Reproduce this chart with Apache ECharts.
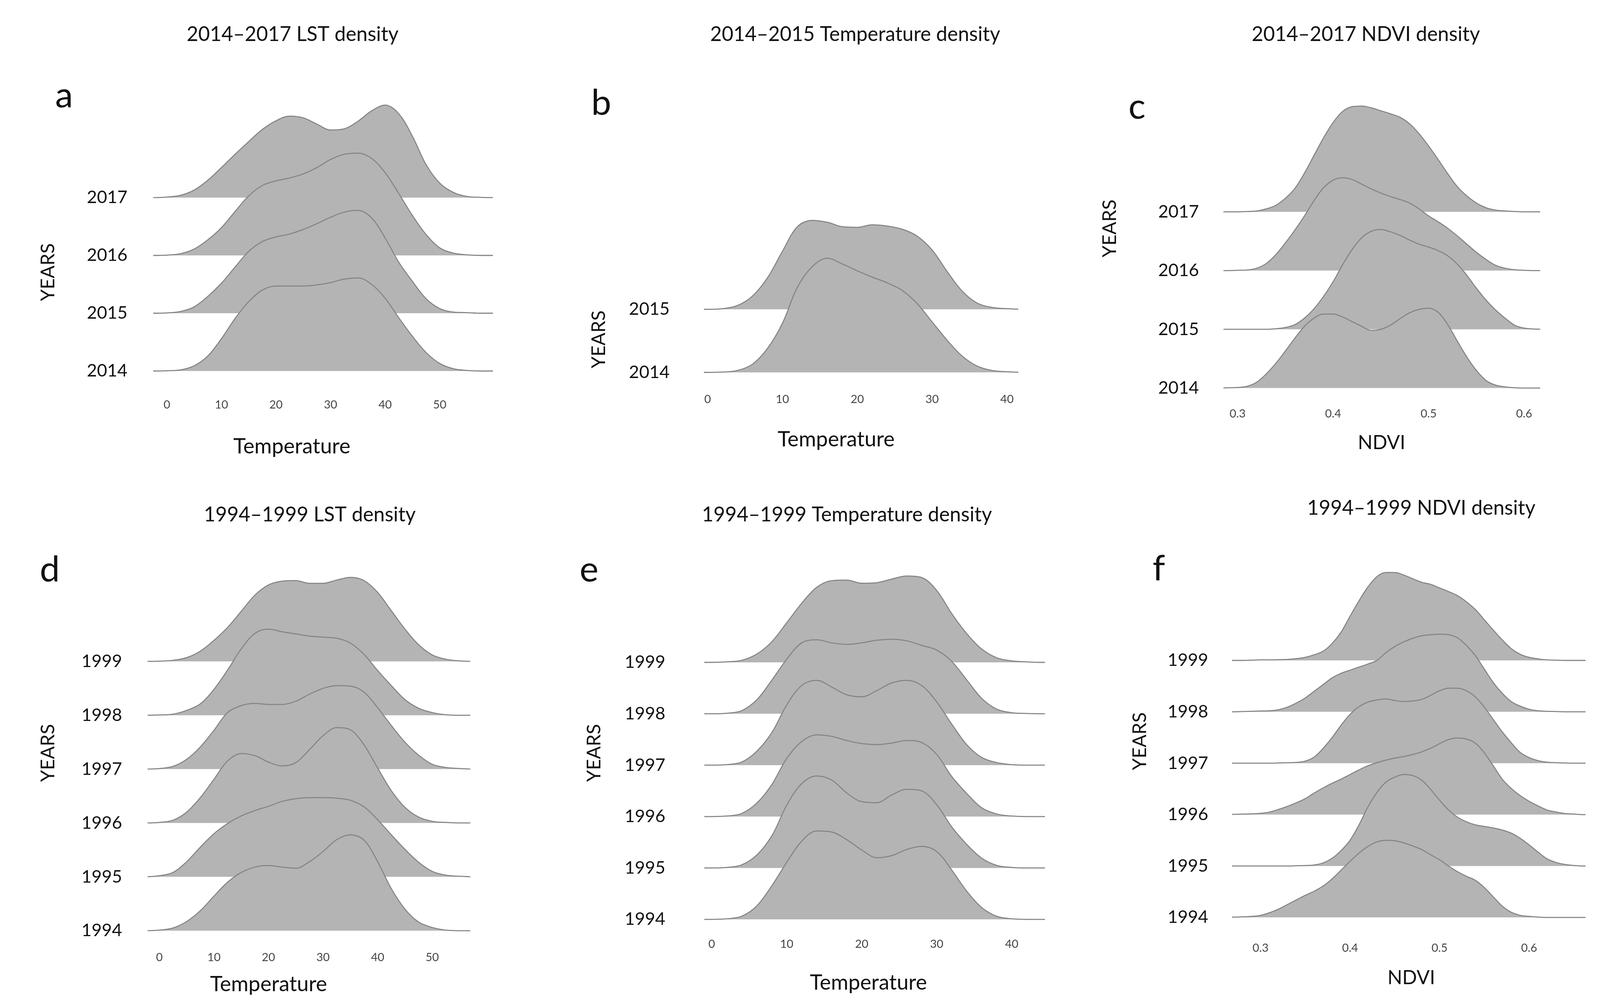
<!DOCTYPE html>
<html>
<head>
<meta charset="utf-8">
<script src="https://cdn.jsdelivr.net/npm/echarts@6/dist/echarts.min.js"></script>
<style>
html,body{margin:0;padding:0;background:#ffffff;overflow:hidden;}
#chart{position:absolute;left:0;top:0;}
</style>
</head>
<body>
<div id="chart"></div>
<script>
// ---------------- DATA (density heights in units of ridge spacing) ----------------
// Panel a: 2014–2017 LST
const lstX14 = [-2.5,0,2.5,5,7.5,10,12.5,15,17.5,20,22.5,25,27.5,30,32.5,35,37.5,40,42.5,45,47.5,50,52.5,55,57.5,60];
const lst2017 = [0,0.01,0.04,0.13,0.30,0.52,0.75,0.97,1.18,1.33,1.41,1.38,1.27,1.17,1.19,1.32,1.50,1.60,1.45,1.06,0.57,0.25,0.09,0.02,0.005,0];
const lst2016 = [0,0.005,0.03,0.11,0.27,0.48,0.76,1.03,1.21,1.29,1.34,1.41,1.52,1.66,1.75,1.77,1.68,1.43,1.07,0.69,0.36,0.13,0.04,0.01,0,0];
const lst2015 = [0,0.005,0.03,0.11,0.29,0.52,0.80,1.07,1.24,1.32,1.37,1.45,1.55,1.66,1.75,1.78,1.65,1.30,0.88,0.55,0.25,0.08,0.02,0.01,0,0];
const lst2014 = [0,0.005,0.02,0.09,0.26,0.56,0.91,1.20,1.40,1.47,1.47,1.47,1.49,1.53,1.59,1.61,1.50,1.26,0.92,0.60,0.32,0.13,0.04,0.01,0,0];

// Panel b: 2014–2015 Temperature
const tempX14 = [-2,0,2,4,6,8,10,12,14,16,18,20,22,24,26,28,30,32,34,36,38,40,42];
const temp2015 = [0,0,0.01,0.06,0.21,0.50,0.92,1.31,1.41,1.38,1.31,1.30,1.34,1.32,1.27,1.16,0.94,0.60,0.29,0.10,0.03,0.01,0];
const temp2014 = [0,0,0.005,0.03,0.13,0.38,0.78,1.35,1.68,1.81,1.72,1.61,1.51,1.42,1.30,1.09,0.80,0.51,0.26,0.10,0.03,0.01,0];

// Panel c: 2014–2017 NDVI
const ndviX14 = [0.28,0.29,0.30,0.31,0.32,0.33,0.34,0.35,0.36,0.37,0.38,0.39,0.40,0.41,0.42,0.43,0.44,0.45,0.46,0.47,0.48,0.49,0.50,0.51,0.52,0.53,0.54,0.55,0.56,0.57,0.58,0.59,0.60,0.61,0.62];
const ndvi2017 = [0,0,0,0.005,0.015,0.05,0.11,0.23,0.40,0.66,0.96,1.26,1.52,1.71,1.79,1.80,1.77,1.72,1.67,1.61,1.50,1.33,1.12,0.89,0.65,0.43,0.27,0.15,0.07,0.03,0.015,0.005,0,0,0];
const ndvi2016 = [0,0,0.005,0.01,0.04,0.12,0.27,0.47,0.69,0.93,1.19,1.41,1.54,1.58,1.55,1.47,1.39,1.32,1.26,1.21,1.15,1.05,0.93,0.83,0.72,0.59,0.45,0.31,0.19,0.09,0.04,0.015,0.005,0,0];
const ndvi2015 = [0,0,0,0,0,0,0.01,0.03,0.08,0.19,0.35,0.56,0.81,1.10,1.36,1.56,1.67,1.70,1.66,1.60,1.52,1.45,1.40,1.34,1.25,1.11,0.92,0.70,0.50,0.33,0.19,0.07,0.02,0.005,0];
const ndvi2014 = [0,0.005,0.01,0.03,0.10,0.24,0.42,0.63,0.85,1.05,1.19,1.26,1.26,1.21,1.13,1.05,0.98,1.00,1.07,1.18,1.28,1.34,1.36,1.29,1.08,0.80,0.53,0.30,0.13,0.05,0.02,0.005,0,0,0];

// Panel d: 1994–1999 LST
const lstX94 = [-2.5,0,2.5,5,7.5,10,12.5,15,17.5,20,22.5,25,27.5,30,32.5,35,37.5,40,42.5,45,47.5,50,52.5,55,57.5];
const lst1999 = [0,0.005,0.02,0.07,0.19,0.39,0.63,0.93,1.23,1.42,1.49,1.50,1.45,1.45,1.51,1.56,1.50,1.28,0.94,0.60,0.31,0.12,0.04,0.01,0];
const lst1998 = [0,0.005,0.02,0.09,0.21,0.48,0.84,1.23,1.52,1.60,1.55,1.51,1.47,1.45,1.43,1.34,1.13,0.83,0.55,0.29,0.13,0.05,0.01,0,0];
const lst1997 = [0,0.01,0.05,0.18,0.41,0.72,1.05,1.18,1.22,1.20,1.20,1.26,1.39,1.50,1.55,1.54,1.43,1.14,0.81,0.50,0.26,0.09,0.03,0.01,0];
const lst1996 = [0,0.01,0.05,0.20,0.47,0.81,1.15,1.29,1.25,1.13,1.06,1.12,1.36,1.62,1.77,1.73,1.45,1.02,0.60,0.29,0.11,0.03,0.01,0,0];
const lst1995 = [0,0.02,0.08,0.28,0.55,0.80,0.99,1.13,1.23,1.31,1.40,1.45,1.47,1.47,1.46,1.42,1.30,1.06,0.78,0.51,0.27,0.10,0.03,0.01,0];
const lst1994 = [0,0.01,0.05,0.17,0.37,0.64,0.90,1.08,1.18,1.21,1.18,1.16,1.28,1.47,1.69,1.78,1.68,1.28,0.78,0.40,0.16,0.06,0.01,0,0];

// Panel e: 1994–1999 Temperature
const tempX94 = [-2,0,2,4,6,8,10,12,14,16,18,20,22,24,26,28,30,32,34,36,38,40,42,44,46];
const temp1999 = [0,0,0.01,0.04,0.16,0.40,0.77,1.15,1.46,1.59,1.60,1.54,1.55,1.62,1.68,1.65,1.40,0.95,0.56,0.26,0.09,0.03,0.01,0,0];
const temp1998 = [0,0,0.01,0.06,0.27,0.65,1.06,1.38,1.44,1.38,1.35,1.38,1.43,1.45,1.42,1.33,1.24,1.02,0.66,0.30,0.09,0.02,0.005,0,0];
const temp1997 = [0,0,0.01,0.06,0.27,0.63,1.17,1.55,1.65,1.52,1.37,1.33,1.45,1.60,1.65,1.55,1.23,0.80,0.40,0.15,0.05,0.01,0,0,0];
const temp1996 = [0,0,0.01,0.06,0.26,0.62,1.13,1.46,1.59,1.56,1.48,1.42,1.40,1.43,1.48,1.44,1.21,0.78,0.45,0.17,0.05,0.01,0,0,0];
const temp1995 = [0,0,0.01,0.06,0.25,0.62,1.22,1.64,1.79,1.71,1.46,1.29,1.27,1.42,1.53,1.50,1.23,0.80,0.46,0.19,0.05,0.01,0,0,0];
const temp1994 = [0,0,0.01,0.06,0.26,0.65,1.11,1.52,1.72,1.70,1.55,1.35,1.20,1.24,1.36,1.42,1.32,0.96,0.55,0.23,0.06,0.01,0,0,0];

// Panel f: 1994–1999 NDVI
const ndviX94 = [0.26,0.27,0.28,0.29,0.30,0.31,0.32,0.33,0.34,0.35,0.36,0.37,0.38,0.39,0.40,0.41,0.42,0.43,0.44,0.45,0.46,0.47,0.48,0.49,0.50,0.51,0.52,0.53,0.54,0.55,0.56,0.57,0.58,0.59,0.60,0.61,0.62,0.63,0.64,0.65,0.66,0.67];
const ndvi1999 = [0,0,0,0.005,0.01,0.01,0.015,0.02,0.035,0.06,0.11,0.18,0.33,0.55,0.86,1.16,1.43,1.63,1.71,1.71,1.66,1.59,1.52,1.48,1.41,1.34,1.26,1.14,0.99,0.79,0.59,0.40,0.23,0.12,0.06,0.03,0.01,0.005,0,0,0,0];
const ndvi1998 = [0,0,0.005,0.01,0.015,0.02,0.04,0.09,0.17,0.27,0.40,0.53,0.66,0.75,0.81,0.87,0.93,1.00,1.15,1.27,1.36,1.43,1.48,1.50,1.51,1.50,1.44,1.29,1.09,0.83,0.57,0.36,0.20,0.11,0.05,0.02,0.01,0.005,0,0,0,0];
const ndvi1997 = [0,0,0,0,0,0,0.005,0.01,0.015,0.04,0.12,0.29,0.50,0.74,0.95,1.10,1.19,1.23,1.25,1.22,1.20,1.21,1.24,1.32,1.41,1.46,1.46,1.41,1.29,1.09,0.85,0.61,0.40,0.21,0.11,0.05,0.02,0.01,0.005,0,0,0];
const ndvi1996 = [0,0.005,0.01,0.015,0.025,0.05,0.10,0.16,0.23,0.31,0.42,0.52,0.61,0.69,0.78,0.87,0.95,1.01,1.06,1.10,1.13,1.17,1.22,1.29,1.38,1.46,1.49,1.47,1.39,1.20,0.95,0.69,0.51,0.37,0.26,0.17,0.09,0.05,0.02,0.01,0,0];
const ndvi1995 = [0,0,0,0,0,0,0,0,0.005,0.01,0.02,0.06,0.15,0.30,0.50,0.80,1.15,1.43,1.63,1.73,1.78,1.76,1.67,1.49,1.28,1.09,0.95,0.86,0.80,0.77,0.74,0.70,0.64,0.54,0.41,0.27,0.14,0.07,0.03,0.01,0,0];
const ndvi1994 = [0,0.005,0.01,0.02,0.04,0.09,0.16,0.25,0.34,0.43,0.51,0.61,0.75,0.92,1.09,1.25,1.38,1.47,1.50,1.49,1.45,1.39,1.32,1.22,1.12,1.00,0.89,0.80,0.72,0.58,0.40,0.22,0.10,0.04,0.02,0.005,0,0,0,0,0,0];

// Categories and tick labels
const years14 = ['2014','2015','2016','2017'];
const years1415 = ['2014','2015'];
const years94 = ['1994','1995','1996','1997','1998','1999'];
const ticksLstA = [0,10,20,30,40,50];
const ticksTempB = [0,10,20,30,40];
const ticksNdvi = [0.3,0.4,0.5,0.6];
const titles = ['2014–2017 LST density','2014–2015 Temperature density','2014–2017 NDVI density',
                '1994–1999 LST density','1994–1999 Temperature density','1994–1999 NDVI density'];
const letters = ['a','b','c','d','e','f'];

// ---------------- LAYOUT (reference pixel coordinates, 4468 x 2581) ----------------
const REF_W = 4468, REF_H = 2581;
const W = window.innerWidth || REF_W;
const H = window.innerHeight || REF_H;
const sx = W / REF_W, sy = H / REF_H, sf = Math.min(sx, sy);
const dom = document.getElementById('chart');
dom.style.width = W + 'px';
dom.style.height = H + 'px';

const FONT = 'Lato, "Noto Sans", sans-serif';
const intFmt = v => String(Math.round(v));
const ndviFmt = v => v.toFixed(1);

const panels = [
  {xs:lstX14, rows:[lst2014,lst2015,lst2016,lst2017], years:years14, ticks:ticksLstA, fmt:intFmt, name:'Temperature', nameSize:59,
   xmin:-2.5, xmax:59.6, xref:0, xrefPx:466, ppu:15.24, y0:950, sp:148, yMax:4.8, tickY:1038, yearRight:356, yearOff:12,
   title:[817,88], letter:[179,245], nameXY:[815,1144], yearsXY:[135,697]},
  {xs:tempX14, rows:[temp2014,temp2015], years:years1415, ticks:ticksTempB, fmt:intFmt, name:'Temperature', nameSize:59,
   xmin:-0.4, xmax:41.4, xref:0, xrefPx:1976, ppu:20.9, y0:953.5, sp:161.5, yMax:2.6, tickY:1024, yearRight:1870, yearOff:10,
   title:[2388,88], letter:[1679,264], nameXY:[2335,1126], yearsXY:[1673,869]},
  {xs:ndviX14, rows:[ndvi2014,ndvi2015,ndvi2016,ndvi2017], years:years14, ticks:ticksNdvi, fmt:ndviFmt, name:'NDVI', nameSize:54,
   xmin:0.286, xmax:0.616, xref:0.3, xrefPx:3456, ppu:2667, y0:993.6, sp:150.4, yMax:4.9, tickY:1061, yearRight:3348, yearOff:21,
   title:[3814,88], letter:[3175,274], nameXY:[3858,1134], yearsXY:[3099,585]},
  {xs:lstX94, rows:[lst1994,lst1995,lst1996,lst1997,lst1998,lst1999], years:years94, ticks:ticksLstA, fmt:intFmt, name:'Temperature', nameSize:59,
   xmin:-2, xmax:56.8, xref:0, xrefPx:445, ppu:15.24, y0:2383, sp:137.9, yMax:6.7, tickY:2453, yearRight:341, yearOff:10,
   title:[865,1318], letter:[139,1459], nameXY:[750,2521], yearsXY:[135,1928]},
  {xs:tempX94, rows:[temp1994,temp1995,temp1996,temp1997,temp1998,temp1999], years:years94, ticks:ticksTempB, fmt:intFmt, name:'Temperature', nameSize:59,
   xmin:-0.9, xmax:44.3, xref:0, xrefPx:1987.5, ppu:20.94, y0:2354, sp:131.6, yMax:6.8, tickY:2419, yearRight:1858, yearOff:-2,
   title:[2365,1318], letter:[1645,1459], nameXY:[2425,2517], yearsXY:[1659,1928]},
  {xs:ndviX94, rows:[ndvi1994,ndvi1995,ndvi1996,ndvi1997,ndvi1998,ndvi1999], years:years94, ticks:ticksNdvi, fmt:ndviFmt, name:'NDVI', nameSize:54,
   xmin:0.269, xmax:0.662, xref:0.3, xrefPx:3520, ppu:2500, y0:2349, sp:131.6, yMax:6.8, tickY:2429, yearRight:3374, yearOff:-3,
   title:[3969,1301], letter:[3236,1456], nameXY:[3941,2504], yearsXY:[3183,1898]}
];

const option = {
  backgroundColor:'#ffffff', animation:false,
  grid:[], xAxis:[], yAxis:[], series:[], graphic:{elements:[]}
};

function txt(x, y, text, size, rot, color){
  return {type:'text', x:x*sx, y:y*sy, rotation:rot||0, silent:true,
    style:{text:text, fontSize:size*sf, fontFamily:FONT, fill:color||'#111111',
           align:'center', verticalAlign:'middle', textAlign:'center', textVerticalAlign:'middle'}};
}

panels.forEach((p, i) => {
  const yMin = -0.06;
  const left = p.xrefPx + (p.xmin - p.xref) * p.ppu;
  const width = (p.xmax - p.xmin) * p.ppu;
  const top = p.y0 - p.yMax * p.sp;
  const height = (p.yMax - yMin) * p.sp;
  const bottomPx = top + height;
  option.grid.push({left:left*sx, top:top*sy, width:width*sx, height:height*sy, containLabel:false});
  option.xAxis.push({
    gridIndex:i, type:'value', min:p.xmin, max:p.xmax,
    axisLine:{show:false}, axisTick:{show:false}, splitLine:{show:false},
    axisLabel:{customValues:p.ticks, formatter:p.fmt, margin:(p.tickY - bottomPx - 16)*sy,
               fontSize:32*sf, color:'#444444', fontFamily:FONT}
  });
  const off = p.yearOff * sy;
  const pad = off >= 0 ? [0,0,2*off,0] : [-2*off,0,0,0];
  option.yAxis.push({
    gridIndex:i, type:'value', min:yMin, max:p.yMax,
    axisLine:{show:false}, axisTick:{show:false}, splitLine:{show:false},
    axisLabel:{customValues:p.years.map((_, k) => k), formatter:v => p.years[Math.round(v)] || '',
               margin:(left - p.yearRight)*sx, fontSize:49*sf, color:'#111111', fontFamily:FONT,
               verticalAlign:'middle', padding:pad}
  });
  for (let k = p.rows.length - 1; k >= 0; k--) {
    const dens = p.rows[k];
    option.series.push({
      type:'line', name:p.years[k], xAxisIndex:i, yAxisIndex:i,
      data:p.xs.map((x, j) => [x, k + dens[j]]),
      smooth:0.35, symbol:'none', silent:true,
      lineStyle:{color:'#858585', width:3*sf},
      areaStyle:{color:'#b4b4b4', opacity:1, origin:k}
    });
  }
  option.graphic.elements.push(txt(p.title[0], p.title[1], titles[i], 56));
  option.graphic.elements.push(txt(p.letter[0], p.letter[1], letters[i], 100));
  option.graphic.elements.push(txt(p.nameXY[0], p.nameXY[1], p.name, p.nameSize));
  option.graphic.elements.push(txt(p.yearsXY[0], p.yearsXY[1], 'YEARS', 53, Math.PI/2));
});

const chart = echarts.init(dom, null, {renderer:'canvas', width:W, height:H});
chart.setOption(option);
</script>
</body>
</html>
